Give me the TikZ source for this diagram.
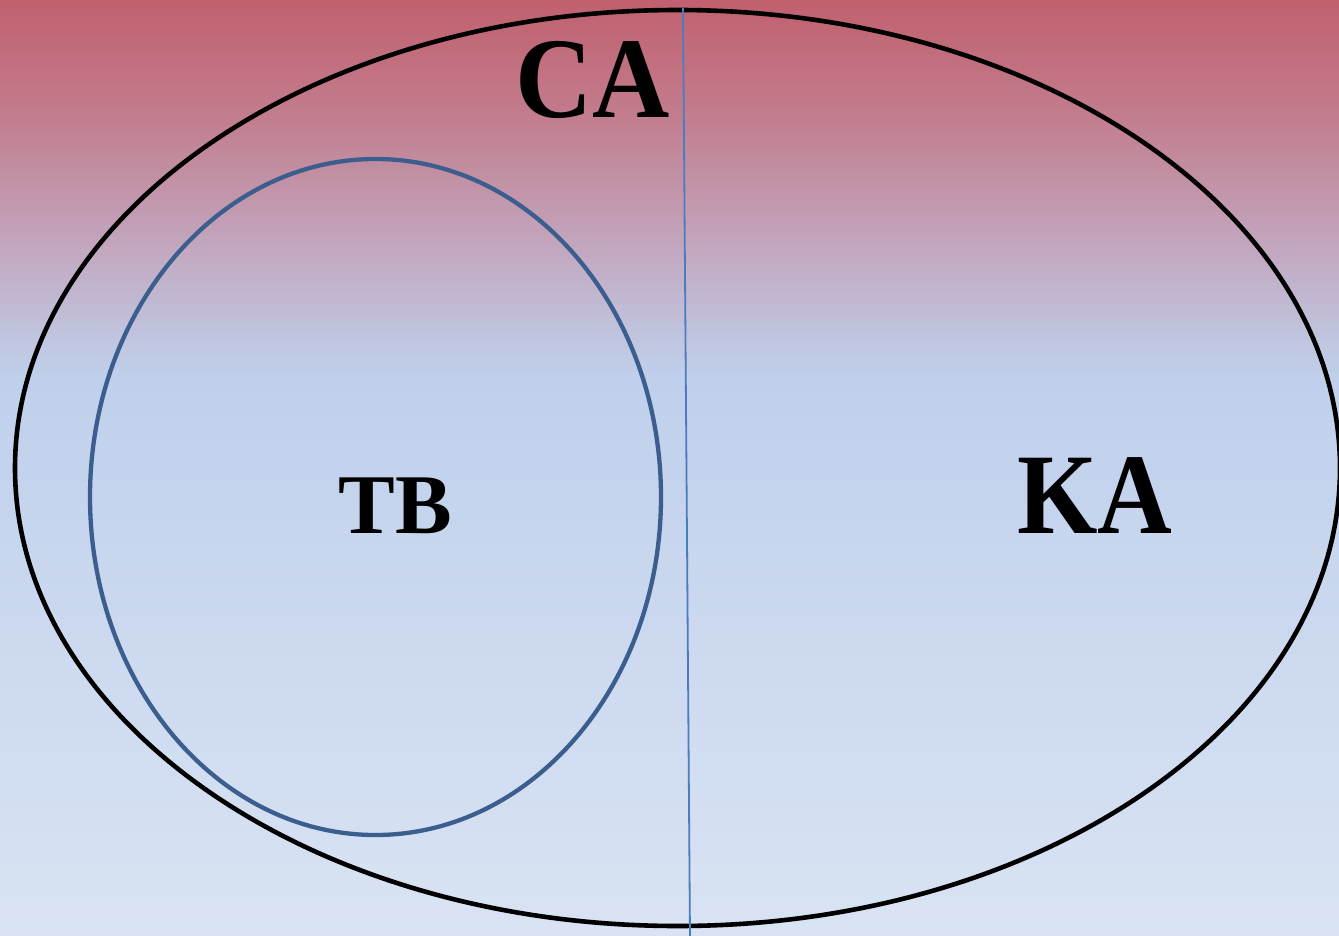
\documentclass[tikz,border=0pt]{standalone}
\usepackage{fontspec}
\setmainfont{Liberation Serif}
\definecolor{bgA}{RGB}{193,96,110}
\definecolor{bgB}{RGB}{194,126,143}
\definecolor{bgC}{RGB}{194,168,192}
\definecolor{bgD}{RGB}{192,198,224}
\definecolor{bgE}{RGB}{192,208,236}
\definecolor{bgF}{RGB}{217,227,243}
\definecolor{innerblue}{RGB}{59,94,142}
\definecolor{lineblue}{RGB}{74,124,192}
\tikzset{
  bigset/.style={draw=black, line width=4.6pt},
  subset/.style={draw=innerblue, line width=4.3pt},
  divider/.style={draw=lineblue, line width=1.8pt},
  biglabel/.style={font=\bfseries\fontsize{115}{115}\selectfont, anchor=base, inner sep=0pt},
  smalllabel/.style={font=\bfseries\fontsize{85}{85}\selectfont, anchor=base, inner sep=0pt}
}
\begin{document}
\begin{tikzpicture}[x=1pt,y=-1pt]
\useasboundingbox (0,0) rectangle (1339,936);
% background gradient
\shade[top color=bgA, bottom color=bgB] (0,-1) rectangle (1339,121);
\shade[top color=bgB, bottom color=bgC] (0,120) rectangle (1339,251);
\shade[top color=bgC, bottom color=bgD] (0,250) rectangle (1339,341);
\shade[top color=bgD, bottom color=bgE] (0,340) rectangle (1339,381);
\shade[top color=bgE, bottom color=bgF] (0,380) rectangle (1339,937);
% sets
\draw[bigset] (677.5,468) ellipse [x radius=662.5, y radius=458];
\draw[subset] (375.5,497) ellipse [x radius=285.5, y radius=338];
% divider
\coordinate (dtop) at (683,8);
\coordinate (dbot) at (690,937);
\draw[divider] (dtop) -- (dbot);
% labels
\node[biglabel, xscale=0.93] (ca) at (593,118) {CA};
\node[smalllabel] (tb) at (395,533) {TB};
\node[biglabel, xscale=0.9] (ka) at (1095,533) {KA};
\end{tikzpicture}
\end{document}
